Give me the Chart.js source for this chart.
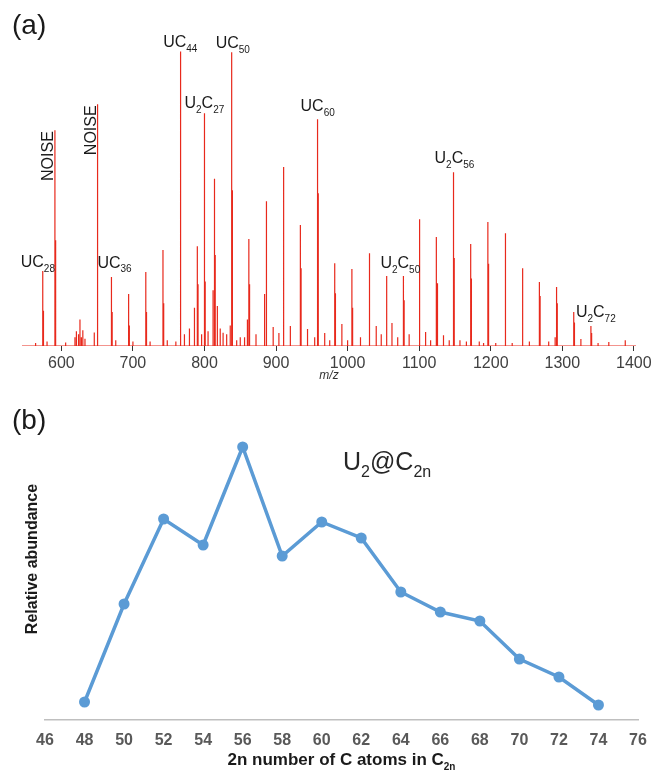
<!DOCTYPE html>
<html>
<head>
<meta charset="utf-8">
<script src="https://cdn.jsdelivr.net/npm/chart.js@4.4.1/dist/chart.umd.min.js"></script>
<style>
    body { margin: 0; background: #fff; }
    #wrap { position: relative; width: 651px; height: 772px; }
    canvas { position: absolute; left: 0; }
    #specChart { top: 0; }
    #abundChart { top: 390px; }
</style>
</head>
<body>
<div id="wrap">
    <canvas id="specChart" width="651" height="390"></canvas>
    <canvas id="abundChart" width="651" height="382"></canvas>
</div>
<script>
var FONT = '"Liberation Sans", Arial, sans-serif';

// (a) mass spectrum, intensity relative to UC50 = 100
var peakMz = [574, 591, 650, 670, 694, 718, 742, 766, 790, 800, 814, 838, 862, 886, 910, 934, 958,
    982, 1006, 1030, 1054, 1078, 1100, 1124, 1148, 1172, 1196, 1220, 1244, 1268, 1292, 1316, 1340];
var peakIntensity = [25.5, 73.5, 82.3, 23.5, 17.7, 25.2, 32.7, 100.3, 34, 79.3, 57, 100, 36.4, 49.3, 61, 41.2, 77.2,
    28.2, 26.2, 31.6, 23.8, 23.8, 43.2, 37.1, 59.2, 34.7, 42.2, 38.4, 26.5, 21.8, 20.1, 11.6, 6.8];
// isotope line sitting one unit above each main peak
var isotopeIntensity = [12, 36, 40, 11.6, 7, 11.6, 14.6, 51, 21, 22, 31, 53, 21, 30, 30, 26.5, 52,
    18, 13, 22, 16, 15.6, 23.5, 21.4, 30, 23, 28, 26.5, 17.7, 17, 14.6, 8, 4.4];
var minorMz = [564, 580, 606, 619, 621, 624, 626, 628, 630, 633, 646, 676, 700, 724, 748, 760, 772, 779, 786,
    796, 805, 812, 818, 822, 826, 831, 836, 845, 850, 856, 860, 872, 884, 896, 904, 920, 944, 954, 968, 975,
    992, 1000, 1018, 1040, 1047, 1062, 1070, 1086, 1109, 1116, 1126, 1134, 1142, 1157, 1166, 1184, 1190,
    1207, 1230, 1254, 1281, 1290, 1326, 1350, 1365, 1388];
var minorIntensity = [1, 1.5, 1.2, 3, 5, 4, 9, 3, 5.4, 2.5, 4.6, 2, 1.5, 1.5, 2, 1.5, 4, 6, 13,
    4, 5, 19, 13.6, 6, 4.5, 4, 7, 2, 3, 3, 9, 4, 17.7, 6.5, 4.4, 6.8, 5.8, 3, 4.4, 2,
    7.5, 2, 3, 6.8, 4, 7.8, 3, 4, 4.8, 2, 7.8, 3.7, 2, 2, 1.5, 1.5, 1,
    1, 1, 1.5, 1.5, 3, 2.4, 1, 1.4, 2];
var mzTicks = [600, 700, 800, 900, 1000, 1100, 1200, 1300, 1400];

var peakLabels = [
    { mz: 574, text: 'UC_{28}', dx: -22, dy: -4 },
    { mz: 670, text: 'UC_{36}', dx: -14, dy: -9 },
    { mz: 766, text: 'UC_{44}', dx: -17, dy: -4 },
    { mz: 800, text: 'U_{2}C_{27}', dx: -20, dy: -5 },
    { mz: 838, text: 'UC_{50}', dx: -16, dy: -4 },
    { mz: 958, text: 'UC_{60}', dx: -17, dy: -8 },
    { mz: 1078, text: 'U_{2}C_{50}', dx: -23, dy: -8 },
    { mz: 1148, text: 'U_{2}C_{56}', dx: -19, dy: -9 },
    { mz: 1340, text: 'U_{2}C_{72}', dx: -15, dy: -9 }
];
var noiseMz = [591, 650];

// (b) relative abundance of U2@C2n
var cageSize = [48, 50, 52, 54, 56, 58, 60, 62, 64, 66, 68, 70, 72, 74];
var abundance = [18, 116, 201, 175, 273, 164, 198, 182, 128, 108, 99, 61, 43, 15];
var cageTicks = [46, 48, 50, 52, 54, 56, 58, 60, 62, 64, 66, 68, 70, 72, 74, 76];

// draw text where _{..} marks a subscript, returns the width
function drawRich(ctx, text, x, y, size, subSize, drop, weight, measureOnly) {
    var parts = text.split(/(_\{[^}]*\})/);
    var start = x;
    parts.forEach(function (p) {
        if (!p) return;
        var sub = p.charAt(0) === '_';
        var t = sub ? p.slice(2, -1) : p;
        ctx.font = weight + ' ' + (sub ? subSize : size) + 'px ' + FONT;
        if (!measureOnly) ctx.fillText(t, x, sub ? y + drop : y);
        x += ctx.measureText(t).width;
    });
    return x - start;
}

function intensityAt(mz) {
    return peakIntensity[peakMz.indexOf(mz)];
}

// let the layout padding alone decide the plot edges
function noLabelPadding(s) {
    s.paddingLeft = 0;
    s.paddingRight = 0;
}

// build the stick spectrum as one line running along the baseline
var sticks = [];
peakMz.forEach(function (m, i) {
    sticks.push({ mz: m, h: peakIntensity[i] });
    sticks.push({ mz: m + 1, h: isotopeIntensity[i] });
});
minorMz.forEach(function (m, i) {
    sticks.push({ mz: m, h: minorIntensity[i] });
});
sticks.sort(function (a, b) { return a.mz - b.mz; });
var specData = [{ x: 545, y: 0 }];
sticks.forEach(function (s) {
    specData.push({ x: s.mz, y: 0 }, { x: s.mz, y: s.h }, { x: s.mz, y: 0 });
});
specData.push({ x: 1403, y: 0 });

var specText = {
    id: 'specText',
    afterDatasetsDraw: function (chart) {
        var ctx = chart.ctx;
        var xs = chart.scales.x, ys = chart.scales.y;
        ctx.save();
        ctx.fillStyle = '#1a1a1a';
        ctx.textAlign = 'left';
        ctx.textBaseline = 'alphabetic';
        ctx.font = '28px ' + FONT;
        ctx.fillText('(a)', 12, 34);
        peakLabels.forEach(function (l) {
            var px = xs.getPixelForValue(l.mz) + l.dx;
            var py = ys.getPixelForValue(intensityAt(l.mz)) + l.dy;
            drawRich(ctx, l.text, px, py, 16, 10, 4.5, 'normal');
        });
        noiseMz.forEach(function (m) {
            var px = xs.getPixelForValue(m) - 1.5;
            var py = ys.getPixelForValue(intensityAt(m)) + 1;
            ctx.save();
            ctx.translate(px, py);
            ctx.rotate(-Math.PI / 2);
            ctx.textAlign = 'right';
            ctx.font = '16px ' + FONT;
            ctx.fillText('NOISE', 0, 0);
            ctx.restore();
        });
        ctx.restore();
    }
};

new Chart(document.getElementById('specChart').getContext('2d'), {
    type: 'line',
    data: {
        datasets: [{
            data: specData,
            borderColor: '#e8291c',
            borderWidth: 1.2,
            borderJoinStyle: 'bevel',
            pointRadius: 0,
            tension: 0
        }]
    },
    options: {
        responsive: false,
        animation: false,
        events: [],
        layout: { padding: { left: 22, right: 15, top: 23, bottom: 0 } },
        plugins: { legend: { display: false }, tooltip: { enabled: false } },
        scales: {
            x: {
                type: 'linear',
                min: 545,
                max: 1403,
                afterBuildTicks: function (s) { s.ticks = mzTicks.map(function (v) { return { value: v }; }); },
                afterFit: function (s) { s.height = 44; noLabelPadding(s); },
                grid: { display: true, drawOnChartArea: false, drawTicks: true, tickLength: 5, tickColor: '#333', lineWidth: 1 },
                border: { display: false },
                ticks: {
                    font: { family: FONT, size: 16 }, color: '#404040', padding: 3, maxRotation: 0, autoSkip: false,
                    callback: function (v) { return String(v); }
                },
                title: { display: true, text: 'm/z', color: '#333', font: { family: FONT, size: 12, style: 'italic' }, padding: { top: 0, bottom: 7 } }
            },
            y: { display: false, min: 0, max: 110 }
        }
    },
    plugins: [specText]
});

var abundText = {
    id: 'abundText',
    afterDatasetsDraw: function (chart) {
        var ctx = chart.ctx;
        var area = chart.chartArea;
        ctx.save();
        ctx.fillStyle = '#1a1a1a';
        ctx.textAlign = 'left';
        ctx.textBaseline = 'alphabetic';
        ctx.font = '28px ' + FONT;
        ctx.fillText('(b)', 12, 39);
        // y title
        ctx.save();
        ctx.translate(37, 169);
        ctx.rotate(-Math.PI / 2);
        ctx.textAlign = 'center';
        ctx.font = 'bold 16px ' + FONT;
        ctx.fillText('Relative abundance', 0, 0);
        ctx.restore();
        // x title
        var xt = '2n number of C atoms in C_{2n}';
        var w = drawRich(ctx, xt, 0, 0, 17, 10, 5, 'bold', true);
        drawRich(ctx, xt, (area.left + area.right) / 2 - w / 2, 375, 17, 10, 5, 'bold');
        // series name
        ctx.fillStyle = '#262626';
        drawRich(ctx, 'U_{2}@C_{2n}', 343, 80, 25, 16, 7, 'normal');
        ctx.restore();
    }
};

new Chart(document.getElementById('abundChart').getContext('2d'), {
    type: 'line',
    data: {
        labels: cageSize,
        datasets: [{
            data: cageSize.map(function (s, i) { return { x: s, y: abundance[i] }; }),
            borderColor: '#5b9bd5',
            backgroundColor: '#5b9bd5',
            borderWidth: 3.5,
            pointRadius: 5.5,
            pointBorderWidth: 0,
            tension: 0
        }]
    },
    options: {
        responsive: false,
        animation: false,
        events: [],
        layout: { padding: { left: 45, right: 13, top: 30, bottom: 0 } },
        plugins: { legend: { display: false }, tooltip: { enabled: false } },
        scales: {
            x: {
                type: 'linear',
                min: 46,
                max: 76,
                afterBuildTicks: function (s) { s.ticks = cageTicks.map(function (v) { return { value: v }; }); },
                afterFit: function (s) { s.height = 52; noLabelPadding(s); },
                grid: { display: false, drawTicks: false },
                border: { display: true, color: '#bfbfbf', width: 1.5 },
                ticks: { font: { family: FONT, size: 16, weight: 'bold' }, color: '#595959', padding: 11, maxRotation: 0, autoSkip: false }
            },
            y: { display: false, min: 0, max: 300 }
        }
    },
    plugins: [abundText]
});
</script>
</body>
</html>
